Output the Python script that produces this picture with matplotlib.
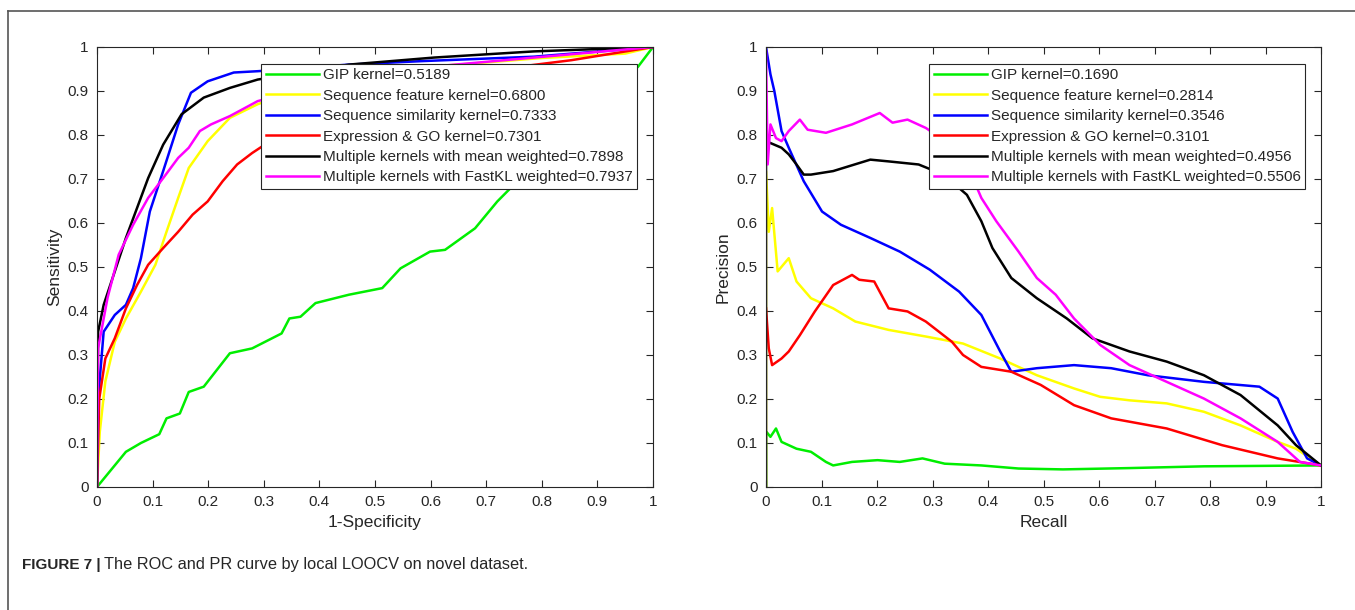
import matplotlib.pyplot as plt
from matplotlib.lines import Line2D

plt.rcParams['font.family'] = ['Liberation Sans', 'DejaVu Sans']

# ROC curves (1-Specificity, Sensitivity)
roc_gip_x = [0, 0.052, 0.079, 0.112, 0.125, 0.149, 0.165, 0.192, 0.239, 0.279, 0.332, 0.346, 0.366,
             0.393, 0.453, 0.513, 0.546, 0.599, 0.626, 0.680, 0.720, 0.76, 0.80, 0.85, 0.90, 0.95, 0.973, 1]
roc_gip_y = [0, 0.08, 0.10, 0.12, 0.156, 0.167, 0.216, 0.228, 0.304, 0.315, 0.349, 0.383, 0.387,
             0.418, 0.437, 0.452, 0.497, 0.535, 0.539, 0.588, 0.649, 0.70, 0.75, 0.82, 0.88, 0.93, 0.955, 1]

roc_seqfeat_x = [0, 0.005, 0.015, 0.032, 0.052, 0.079, 0.105, 0.125, 0.146, 0.165, 0.199, 0.239, 0.289,
                 0.4, 0.6, 0.8, 0.95, 1]
roc_seqfeat_y = [0, 0.125, 0.24, 0.33, 0.383, 0.444, 0.505, 0.58, 0.657, 0.725, 0.786, 0.839, 0.87,
                 0.92, 0.955, 0.975, 0.985, 1]

roc_seqsim_x = [0, 0.002, 0.012, 0.032, 0.052, 0.065, 0.079, 0.095, 0.119, 0.146, 0.169, 0.199, 0.246,
                0.289, 0.453, 0.586, 0.786, 1]
roc_seqsim_y = [0, 0.2, 0.353, 0.391, 0.414, 0.452, 0.52, 0.626, 0.718, 0.824, 0.896, 0.922, 0.942,
                0.945, 0.96, 0.968, 0.978, 1]

roc_expr_x = [0, 0.004, 0.015, 0.032, 0.052, 0.072, 0.092, 0.119, 0.146, 0.172, 0.199, 0.226, 0.252,
              0.279, 0.4, 0.6, 0.853, 1]
roc_expr_y = [0, 0.2, 0.292, 0.338, 0.406, 0.459, 0.505, 0.543, 0.58, 0.619, 0.649, 0.695, 0.733,
              0.759, 0.86, 0.93, 0.97, 1]

roc_mean_x = [0, 0.002, 0.012, 0.032, 0.052, 0.072, 0.092, 0.119, 0.152, 0.192, 0.239, 0.289, 0.453,
              0.606, 0.786, 1]
roc_mean_y = [0, 0.353, 0.414, 0.49, 0.566, 0.634, 0.702, 0.778, 0.847, 0.885, 0.907, 0.926, 0.96,
              0.976, 0.99, 1]

roc_fastkl_x = [0, 0.002, 0.019, 0.039, 0.065, 0.092, 0.119, 0.146, 0.165, 0.185, 0.205, 0.239, 0.289,
                0.45, 0.6, 0.786, 1]
roc_fastkl_y = [0, 0.315, 0.43, 0.528, 0.596, 0.657, 0.702, 0.748, 0.771, 0.809, 0.824, 0.843, 0.877,
                0.93, 0.955, 0.976, 1]

# PR curves (Recall, Precision)
pr_gip_x = [0, 0, 0.001, 0.008, 0.018, 0.028, 0.055, 0.081, 0.108, 0.121, 0.155, 0.201, 0.241, 0.282,
            0.322, 0.388, 0.455, 0.535, 0.655, 0.789, 1]
pr_gip_y = [0, 0.12, 0.125, 0.114, 0.133, 0.1025, 0.087, 0.08, 0.057, 0.049, 0.057, 0.061, 0.057, 0.065,
            0.053, 0.049, 0.042, 0.04, 0.043, 0.047, 0.049]

pr_seqfeat_x = [0, 0, 0.005, 0.011, 0.021, 0.031, 0.041, 0.055, 0.081, 0.121, 0.161, 0.221, 0.288,
                0.355, 0.422, 0.488, 0.555, 0.602, 0.655, 0.722, 0.789, 0.855, 0.922, 0.955, 1]
pr_seqfeat_y = [0, 0.718, 0.58, 0.634, 0.49, 0.505, 0.52, 0.467, 0.429, 0.406, 0.376, 0.357, 0.342,
                0.326, 0.292, 0.254, 0.224, 0.205, 0.197, 0.19, 0.171, 0.14, 0.1025, 0.087, 0.049]

pr_seqsim_x = [0, 0.008, 0.015, 0.028, 0.041, 0.068, 0.101, 0.135, 0.188, 0.241, 0.295, 0.348, 0.388,
               0.422, 0.442, 0.488, 0.555, 0.622, 0.688, 0.789, 0.889, 0.922, 0.949, 0.975, 1]
pr_seqsim_y = [1, 0.938, 0.9, 0.809, 0.771, 0.695, 0.626, 0.596, 0.566, 0.535, 0.494, 0.444, 0.391,
               0.308, 0.262, 0.27, 0.277, 0.27, 0.254, 0.239, 0.228, 0.201, 0.125, 0.065, 0.049]

pr_expr_x = [0, 0.005, 0.011, 0.028, 0.041, 0.061, 0.088, 0.121, 0.155, 0.168, 0.195, 0.221, 0.255,
             0.288, 0.335, 0.355, 0.388, 0.442, 0.495, 0.555, 0.622, 0.722, 0.822, 0.922, 1]
pr_expr_y = [0.406, 0.315, 0.277, 0.292, 0.308, 0.345, 0.399, 0.459, 0.482, 0.471, 0.467, 0.406, 0.399,
             0.376, 0.33, 0.3, 0.273, 0.262, 0.232, 0.186, 0.156, 0.133, 0.095, 0.065, 0.049]

pr_mean_x = [0, 0, 0.015, 0.028, 0.041, 0.055, 0.068, 0.081, 0.121, 0.188, 0.221, 0.275, 0.32, 0.362,
             0.388, 0.408, 0.442, 0.488, 0.542, 0.588, 0.655, 0.722, 0.789, 0.855, 0.922, 0.955, 1]
pr_mean_y = [0, 0.786, 0.778, 0.771, 0.756, 0.733, 0.71, 0.71, 0.718, 0.744, 0.74, 0.733, 0.71, 0.664,
             0.604, 0.543, 0.475, 0.429, 0.383, 0.338, 0.308, 0.285, 0.254, 0.209, 0.14, 0.095, 0.049]

pr_fastkl_x = [0, 0.003, 0.008, 0.018, 0.028, 0.041, 0.061, 0.075, 0.108, 0.155, 0.205, 0.228, 0.255,
               0.288, 0.33, 0.37, 0.388, 0.415, 0.455, 0.488, 0.522, 0.555, 0.602, 0.655, 0.722, 0.789,
               0.855, 0.922, 0.962, 1]
pr_fastkl_y = [0.99, 0.733, 0.824, 0.793, 0.786, 0.809, 0.835, 0.812, 0.805, 0.824, 0.85, 0.828, 0.835,
               0.816, 0.78, 0.71, 0.657, 0.604, 0.535, 0.475, 0.437, 0.383, 0.323, 0.277, 0.239, 0.201,
               0.156, 0.1025, 0.057, 0.049]

colors = ['#00ee00', '#ffff00', '#0000ff', '#ff0000', '#000000', '#ff00ff']
roc_labels = ['GIP kernel=0.5189', 'Sequence feature kernel=0.6800', 'Sequence similarity kernel=0.7333',
              'Expression & GO kernel=0.7301', 'Multiple kernels with mean weighted=0.7898',
              'Multiple kernels with FastKL weighted=0.7937']
pr_labels = ['GIP kernel=0.1690', 'Sequence feature kernel=0.2814', 'Sequence similarity kernel=0.3546',
             'Expression & GO kernel=0.3101', 'Multiple kernels with mean weighted=0.4956',
             'Multiple kernels with FastKL weighted=0.5506']

roc_curves = [(roc_gip_x, roc_gip_y), (roc_seqfeat_x, roc_seqfeat_y), (roc_seqsim_x, roc_seqsim_y),
              (roc_expr_x, roc_expr_y), (roc_mean_x, roc_mean_y), (roc_fastkl_x, roc_fastkl_y)]
pr_curves = [(pr_gip_x, pr_gip_y), (pr_seqfeat_x, pr_seqfeat_y), (pr_seqsim_x, pr_seqsim_y),
             (pr_expr_x, pr_expr_y), (pr_mean_x, pr_mean_y), (pr_fastkl_x, pr_fastkl_y)]

fig = plt.figure(figsize=(13.55, 6.10), dpi=100)

# panel frame (top and left edges only)
fig.add_artist(Line2D([8 / 1355, 1], [1 - 11 / 610, 1 - 11 / 610], color='#555555', lw=1.2))
fig.add_artist(Line2D([8 / 1355, 8 / 1355], [1 - 11 / 610, 0.0], color='#555555', lw=1.2))

ax1 = fig.add_axes([97 / 1355, 1 - 487 / 610, 556 / 1355, 440 / 610])
ax2 = fig.add_axes([766 / 1355, 1 - 487 / 610, 555 / 1355, 440 / 610])

for ax, curves, labels, xl, yl in [(ax1, roc_curves, roc_labels, '1-Specificity', 'Sensitivity'),
                                   (ax2, pr_curves, pr_labels, 'Recall', 'Precision')]:
    for (x, y), c, lab in zip(curves, colors, labels):
        ax.plot(x, y, color=c, lw=1.8, label=lab)
    ax.set_xlim(0, 1)
    ax.set_ylim(0, 1)
    ticks = [0, 0.1, 0.2, 0.3, 0.4, 0.5, 0.6, 0.7, 0.8, 0.9, 1]
    ticklabels = ['0', '0.1', '0.2', '0.3', '0.4', '0.5', '0.6', '0.7', '0.8', '0.9', '1']
    ax.set_xticks(ticks)
    ax.set_xticklabels(ticklabels)
    ax.set_yticks(ticks)
    ax.set_yticklabels(ticklabels)
    ax.tick_params(direction='in', top=True, right=True, length=5, width=0.8,
                   labelsize=11, colors='#262626', pad=6)
    for s in ax.spines.values():
        s.set_color('#262626')
        s.set_linewidth(0.8)
    ax.set_xlabel(xl, fontsize=12.5, color='#262626', labelpad=4)
    ax.set_ylabel(yl, fontsize=12.5, color='#262626', labelpad=4)
    leg = ax.legend(loc='upper right', bbox_to_anchor=(0.972, 0.962), fontsize=11,
                    handlelength=3.5, handletextpad=0.25, labelspacing=0.42,
                    borderpad=0.3, borderaxespad=0, fancybox=False, framealpha=1)
    leg.get_frame().set_edgecolor('#262626')
    leg.get_frame().set_linewidth(0.8)
    for t in leg.get_texts():
        t.set_color('#262626')

cap_y = 1 - 565 / 610
t1 = fig.text(22 / 1355, cap_y, 'FIGURE 7 |', fontsize=11, fontweight='bold',
              color='#262626', va='center', ha='left')
renderer = fig.canvas.get_renderer()
bb = t1.get_window_extent(renderer=renderer)
fig.text((bb.x1 + 3) / 1355, cap_y, 'The ROC and PR curve by local LOOCV on novel dataset.',
         fontsize=11.8, color='#262626', va='center', ha='left')

fig.savefig('out.png', dpi=100)
